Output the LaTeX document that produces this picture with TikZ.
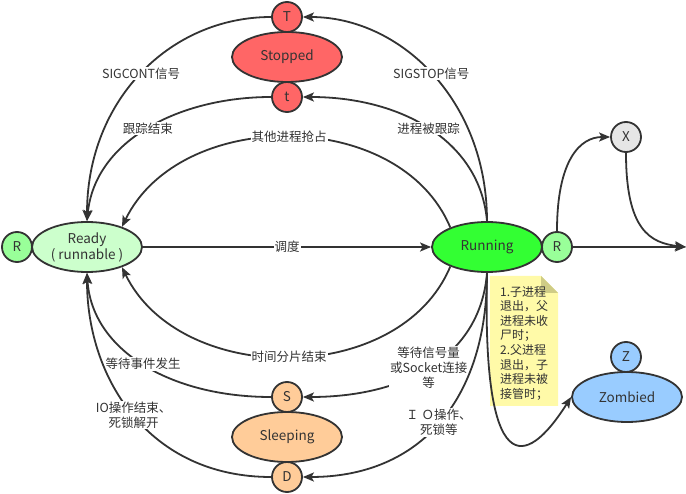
\documentclass[tikz,border=0pt]{standalone}
\usepackage{fontspec}
\setmainfont{Noto Sans CJK SC}
\usetikzlibrary{shapes.geometric,arrows.meta}
\definecolor{stroke}{HTML}{333333}
\definecolor{readyc}{HTML}{CCFFCC}
\definecolor{rc}{HTML}{99FF99}
\definecolor{runc}{HTML}{33FF33}
\definecolor{stopc}{HTML}{FF6666}
\definecolor{sleepc}{HTML}{FFCC99}
\definecolor{xc}{HTML}{E6E6E6}
\definecolor{zc}{HTML}{99CCFF}
\definecolor{notec}{HTML}{FFFAA8}
\definecolor{foldc}{HTML}{CFCC86}
\tikzset{
  state/.style={ellipse,draw=stroke,line width=1.8pt,minimum width=110pt,minimum height=50pt,inner sep=0pt,text=stroke,font=\fontsize{13.5}{16}\selectfont,align=center},
  tag/.style={circle,draw=stroke,line width=1.8pt,minimum size=30pt,inner sep=0pt,text=stroke,font=\fontsize{13.5}{16}\selectfont},
  conn/.style={draw=stroke,line width=1.8pt,-{Stealth[length=11pt,width=9pt,inset=2.5pt]}},
  lbl/.style={fill=white,inner sep=1pt,text=stroke,font=\fontsize{12.5}{15}\selectfont,align=center}
}
\begin{document}
\begin{tikzpicture}[x=1pt,y=-1pt]
\useasboundingbox (0,0) rectangle (686,494);
% note
\fill[notec] (490,276) -- (541,276) -- (558,293) -- (558,406) -- (490,406) -- cycle;
\fill[foldc] (541,276) -- (558,293) -- (541,293) -- cycle;
\node[anchor=north west,inner sep=0pt,text=stroke,font=\fontsize{12}{14.6}\selectfont,align=left] (note) at (500,286)
 {1.子进程\\退出，父\\进程未收\\尸时；\\2.父进程\\退出，子\\进程未被\\接管时；};
% nodes
\node[state,fill=readyc] (ready) at (87,247) {Ready\\( runnable )};
\node[tag,fill=rc] (rl) at (17,247) {R};
\node[state,fill=runc] (run) at (487,247) {Running};
\node[tag,fill=rc] (rr) at (557,247) {R};
\node[state,fill=stopc] (stop) at (287,57) {Stopped};
\node[tag,fill=stopc] (T) at (287,17) {T};
\node[tag,fill=stopc] (t) at (287,97) {t};
\node[state,fill=sleepc] (sleep) at (287,437) {Sleeping};
\node[tag,fill=sleepc] (S) at (287,397) {S};
\node[tag,fill=sleepc] (D) at (287,477) {D};
\node[tag,fill=xc] (X) at (626,137) {X};
\node[state,fill=zc] (zomb) at (627,397) {Zombied};
\node[tag,fill=zc] (Z) at (626,357) {Z};
\coordinate (out) at (686,247);
% edges
\draw[conn] (ready) -- node[lbl]{调度} (run);
\draw[conn] (rr) -- (out);
\draw[conn] (rr.north) .. controls (557,160) and (580,137) .. (X.west);
\draw[conn] (X.south) .. controls (626,230) and (650,243) .. (out);
\draw[conn] (run.north) .. controls (487,100) and (400,17) .. node[lbl,pos=0.5]{SIGSTOP信号} (T.east);
\draw[conn] (run.north) .. controls (480,140) and (400,97) .. node[lbl,pos=0.5]{进程被跟踪} (t.east);
\draw[conn] (run.152) .. controls (400,107) and (180,107) .. node[lbl,pos=0.5]{其他进程抢占} (ready.30);
\draw[conn] (T.west) .. controls (170,17) and (87,100) .. node[lbl,pos=0.5]{SIGCONT信号} (ready.north);
\draw[conn] (t.west) .. controls (180,97) and (95,140) .. node[lbl,pos=0.5]{跟踪结束} (ready.north);
\draw[conn] (run.208) .. controls (400,387) and (180,387) .. node[lbl,pos=0.5]{时间分片结束} (ready.330);
\draw[conn] (run.south) .. controls (480,360) and (400,397) .. node[lbl,pos=0.5]{等待信号量\\或Socket连接\\等} (S.east);
\draw[conn] (run.south) .. controls (487,400) and (420,477) .. node[lbl,pos=0.5]{Ｉ Ｏ操作、\\死锁等} (D.east);
\draw[conn] (S.west) .. controls (170,397) and (92,350) .. node[lbl,pos=0.5]{等待事件发生} (ready.south);
\draw[conn] (D.west) .. controls (150,477) and (87,380) .. node[lbl,pos=0.5]{IO操作结束、\\死锁解开} (ready.south);
\draw[conn] (run.south) .. controls (482,480) and (525,470) .. (zomb.west);
\end{tikzpicture}
\end{document}
